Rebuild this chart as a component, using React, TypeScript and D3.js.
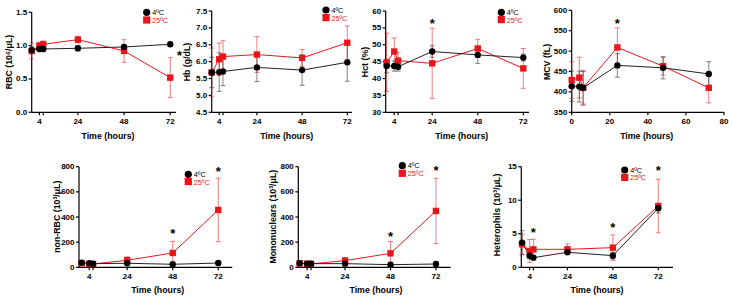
import React from "react";
import * as d3 from "d3";

const times = [0, 4, 6, 24, 48, 72];

const rbc4 = [0.93, 0.95, 0.95, 0.96, 0.98, 1.02];
const rbc4Err = [0.05, 0.04, 0.04, 0.04, 0.03, 0.03];
const rbc25 = [0.92, 1.0, 1.02, 1.09, 0.92, 0.52];
const rbc25Err = [0.12, 0.05, 0.05, 0.05, 0.17, 0.3];

const hb4 = [5.68, 5.69, 5.71, 5.83, 5.75, 5.98];
const hb4Err = [0.45, 0.57, 0.42, 0.42, 0.45, 0.56];
const hb25 = [5.68, 6.07, 6.15, 6.21, 6.11, 6.56];
const hb25Err = [0.72, 0.48, 0.47, 0.53, 0.25, 0.5];

const hct4 = [43.7, 43.7, 43.5, 48.0, 47.0, 46.2];
const hct4Err = [2.0, 1.5, 1.3, 1.7, 2.5, 1.0];
const hct25 = [44.8, 48.0, 45.3, 44.5, 48.9, 43.0];
const hct25Err = [8.6, 4.0, 2.5, 10.4, 2.7, 5.9];

const mcv4 = [414, 413, 410, 465, 459, 444];
const mcv4Err = [37, 38, 40, 29, 27, 30];
const mcv25 = [429, 435, 410, 509, 463, 410];
const mcv25Err = [45, 50, 43, 48, 22, 37];

const nonRbc4 = [37, 32, 29, 32, 24, 34];
const nonRbc4Err = [8, 6, 5, 5, 4, 5];
const nonRbc25 = [32, 26, 26, 56, 114, 456];
const nonRbc25Err = [10, 6, 6, 28, 92, 253];

const mono4 = [32, 29, 29, 29, 21, 26];
const mono4Err = [6, 5, 5, 5, 4, 5];
const mono25 = [32, 28, 27, 53, 111, 448];
const mono25Err = [8, 6, 6, 25, 93, 260];

const het4 = [3.68, 1.74, 1.44, 2.24, 1.74, 8.8];
const het4Err = [1.8, 0.5, 0.3, 0.3, 0.5, 0.7];
const het25 = [3.43, 2.43, 2.68, 2.68, 2.93, 9.14];
const het25Err = [1.5, 1.7, 1.5, 0.8, 1.9, 4.0];

// significance marks: [time, value]
const rbcStars = [[76.9, 0.86]];
const hbStars: number[][] = [];
const hctStars = [[24, 56.5]];
const mcvStars = [[24, 569]];
const nonRbcStars = [[48, 278], [72, 773]];
const monoStars = [[48, 251], [72, 781]];
const hetStars = [[6, 5.4], [48, 6.05], [72, 14.65]];

const hourTicks = [4, 6, 24, 48, 72];
const hourTickLabels = ["4", "", "24", "48", "72"];
const mcvXTicks = [0, 20, 40, 60, 80];
const mcvXTickLabels = ["0", "20", "40", "60", "80"];

const rbcYTicks = [0, 0.5, 1.0, 1.5];
const hbYTicks = [4.5, 5.0, 5.5, 6.0, 6.5, 7.0, 7.5];
const hctYTicks = [30, 35, 40, 45, 50, 55, 60];
const mcvYTicks = [350, 400, 450, 500, 550, 600];
const countYTicks = [0, 200, 400, 600, 800];
const hetYTicks = [0, 5, 10, 15];

const legendLabels = ["4ºC", "25ºC"];
const xTitle = "Time (hours)";

const RED = "#e8161b";
const FONT = "'Liberation Sans', Arial, Helvetica, sans-serif";

type PanelCfg = {
  left: number; right: number; top: number; bottom: number;
  xDomain: number[]; yDomain: number[];
  xTicks: number[]; xTickLabels: string[];
  yTicks: number[]; yFmt: string;
  s4: number[]; e4: number[]; s25: number[]; e25: number[];
  stars: number[][];
  yLabel: React.ReactNode; yLabelX: number; yLabelY: number;
  xLabelX: number; xLabelY: number;
  legend?: { x: number; y1: number; y2: number };
};

function Panel({ c }: { c: PanelCfg }) {
  const x = d3.scaleLinear().domain(c.xDomain).range([c.left, c.right]);
  const y = d3.scaleLinear().domain(c.yDomain).range([c.bottom, c.top]);
  const fmt = d3.format(c.yFmt);
  const line = d3.line<number>().x((_, i) => x(times[i])).y((v) => y(v));
  const errBars = (vals: number[], errs: number[], color: string, op: number) =>
    vals.map((v, i) => {
      const cx = x(times[i]);
      const y1 = y(v + errs[i]);
      const y2 = y(v - errs[i]);
      return (
        <g key={i} stroke={color} strokeOpacity={op} strokeWidth={1}>
          <line x1={cx} x2={cx} y1={y1} y2={y2} />
          <line x1={cx - 2.5} x2={cx + 2.5} y1={y1} y2={y1} />
          <line x1={cx - 2.5} x2={cx + 2.5} y1={y2} y2={y2} />
        </g>
      );
    });
  const sq = 6.4;
  return (
    <g fontFamily={FONT}>
      <line x1={c.left} x2={c.right} y1={c.bottom} y2={c.bottom} stroke="#000" strokeWidth={1.2} />
      <line x1={c.left} x2={c.left} y1={c.top} y2={c.bottom} stroke="#000" strokeWidth={1.2} />
      {c.yTicks.map((t) => (
        <g key={"y" + t}>
          <line x1={c.left - 3} x2={c.left} y1={y(t)} y2={y(t)} stroke="#000" strokeWidth={1.2} />
          <text x={c.left - 4.5} y={y(t)} textAnchor="end" dominantBaseline="central" fontSize={8} fontWeight="bold">
            {fmt(t)}
          </text>
        </g>
      ))}
      {c.xTicks.map((t, i) => (
        <g key={"x" + t}>
          <line x1={x(t)} x2={x(t)} y1={c.bottom} y2={c.bottom + 3} stroke="#000" strokeWidth={1.2} />
          <text x={x(t)} y={c.bottom + 9} textAnchor="middle" dominantBaseline="central" fontSize={8} fontWeight="bold">
            {c.xTickLabels[i]}
          </text>
        </g>
      ))}
      <text x={c.xLabelX} y={c.xLabelY} textAnchor="middle" dominantBaseline="central" fontSize={8.8} fontWeight="bold">
        {xTitle}
      </text>
      <text
        transform={`translate(${c.yLabelX},${c.yLabelY}) rotate(-90)`}
        textAnchor="middle" dominantBaseline="central" fontSize={8.8} fontWeight="bold"
      >
        {c.yLabel}
      </text>
      {errBars(c.s25, c.e25, RED, 0.55)}
      {errBars(c.s4, c.e4, "#333", 0.6)}
      <path d={line(c.s25) || ""} fill="none" stroke={RED} strokeWidth={1} />
      <path d={line(c.s4) || ""} fill="none" stroke="#222" strokeWidth={1} />
      {c.s25.map((v, i) => (
        <rect key={"r" + i} x={x(times[i]) - sq / 2} y={y(v) - sq / 2} width={sq} height={sq} fill={RED} />
      ))}
      {c.s4.map((v, i) => (
        <circle key={"b" + i} cx={x(times[i])} cy={y(v)} r={3.2} fill="#000" />
      ))}
      {c.stars.map((s, i) => (
        <text key={"s" + i} x={x(s[0])} y={y(s[1]) + 5.5} textAnchor="middle" fontSize={13} fontWeight="bold">
          *
        </text>
      ))}
      {c.legend && (
        <g>
          <circle cx={c.legend.x} cy={c.legend.y1} r={3.6} fill="#000" />
          <rect x={c.legend.x - 3.6} y={c.legend.y2 - 3.6} width={7.2} height={7.2} fill={RED} />
          <text x={c.legend.x + 5.5} y={c.legend.y1} dominantBaseline="central" fontSize={7.2}>
            {legendLabels[0]}
          </text>
          <text x={c.legend.x + 5.5} y={c.legend.y2 + 0.4} dominantBaseline="central" fontSize={7.2} fill={RED}>
            {legendLabels[1]}
          </text>
        </g>
      )}
    </g>
  );
}

const panels: PanelCfg[] = [
  {
    left: 31.7, right: 176, top: 12.3, bottom: 112.3, xDomain: [0, 75], yDomain: [0, 1.5],
    xTicks: hourTicks, xTickLabels: hourTickLabels, yTicks: rbcYTicks, yFmt: ".1f",
    s4: rbc4, e4: rbc4Err, s25: rbc25, e25: rbc25Err, stars: rbcStars,
    yLabel: "RBC (10⁶/μL)", yLabelX: 9, yLabelY: 62, xLabelX: 108, xLabelY: 136,
    legend: { x: 146.7, y1: 12.3, y2: 20 },
  },
  {
    left: 211.7, right: 352, top: 11, bottom: 112.3, xDomain: [0, 74.5], yDomain: [4.5, 7.5],
    xTicks: hourTicks, xTickLabels: hourTickLabels, yTicks: hbYTicks, yFmt: ".1f",
    s4: hb4, e4: hb4Err, s25: hb25, e25: hb25Err, stars: hbStars,
    yLabel: "Hb (g/dL)", yLabelX: 187, yLabelY: 62, xLabelX: 286.7, xLabelY: 136,
    legend: { x: 326, y1: 10, y2: 17.6 },
  },
  {
    left: 385.7, right: 529, top: 11, bottom: 112.3, xDomain: [-0.5, 75], yDomain: [30, 60],
    xTicks: hourTicks, xTickLabels: hourTickLabels, yTicks: hctYTicks, yFmt: "d",
    s4: hct4, e4: hct4Err, s25: hct25, e25: hct25Err, stars: hctStars,
    yLabel: "Hct (%)", yLabelX: 365, yLabelY: 62, xLabelX: 461.7, xLabelY: 136,
    legend: { x: 501.3, y1: 12.3, y2: 19.6 },
  },
  {
    left: 571.7, right: 724, top: 10.3, bottom: 112.3, xDomain: [0, 80], yDomain: [350, 600],
    xTicks: mcvXTicks, xTickLabels: mcvXTickLabels, yTicks: mcvYTicks, yFmt: "d",
    s4: mcv4, e4: mcv4Err, s25: mcv25, e25: mcv25Err, stars: mcvStars,
    yLabel: "MCV (fL)", yLabelX: 547, yLabelY: 62, xLabelX: 646.7, xLabelY: 136,
  },
  {
    left: 79, right: 232.3, top: 166.7, bottom: 267.3, xDomain: [-1.4, 79.4], yDomain: [0, 800],
    xTicks: hourTicks, xTickLabels: hourTickLabels, yTicks: countYTicks, yFmt: "d",
    s4: nonRbc4, e4: nonRbc4Err, s25: nonRbc25, e25: nonRbc25Err, stars: nonRbcStars,
    yLabel: "non-RBC (10³/μL)", yLabelX: 57.3, yLabelY: 216.7, xLabelX: 157.7, xLabelY: 290,
    legend: { x: 188.3, y1: 174.3, y2: 181.6 },
  },
  {
    left: 298.3, right: 450.7, top: 166.7, bottom: 267.3, xDomain: [-0.7, 79.8], yDomain: [0, 800],
    xTicks: hourTicks, xTickLabels: hourTickLabels, yTicks: countYTicks, yFmt: "d",
    s4: mono4, e4: mono4Err, s25: mono25, e25: mono25Err, stars: monoStars,
    yLabel: "Mononuclears (10³/μL)", yLabelX: 273.3, yLabelY: 216.7, xLabelX: 376, xLabelY: 290,
    legend: { x: 402.3, y1: 165.7, y2: 173.3 },
  },
  {
    left: 521.3, right: 673, top: 166.7, bottom: 267.3, xDomain: [-0.4, 79.8], yDomain: [0, 15],
    xTicks: hourTicks, xTickLabels: hourTickLabels, yTicks: hetYTicks, yFmt: "d",
    s4: het4, e4: het4Err, s25: het25, e25: het25Err, stars: hetStars,
    yLabel: "Heterophils (10³/μL)", yLabelX: 497, yLabelY: 215, xLabelX: 597, xLabelY: 290,
    legend: { x: 624.7, y1: 170, y2: 177.4 },
  },
];

export default function App() {
  return (
    <svg
      width={732}
      height={299}
      viewBox="0 0 732 299"
      style={{ position: "absolute", left: 0, top: 0, background: "#fff" }}
    >
      <rect x={0} y={0} width={732} height={299} fill="#fff" />
      {panels.map((p, i) => (
        <Panel key={i} c={p} />
      ))}
    </svg>
  );
}
